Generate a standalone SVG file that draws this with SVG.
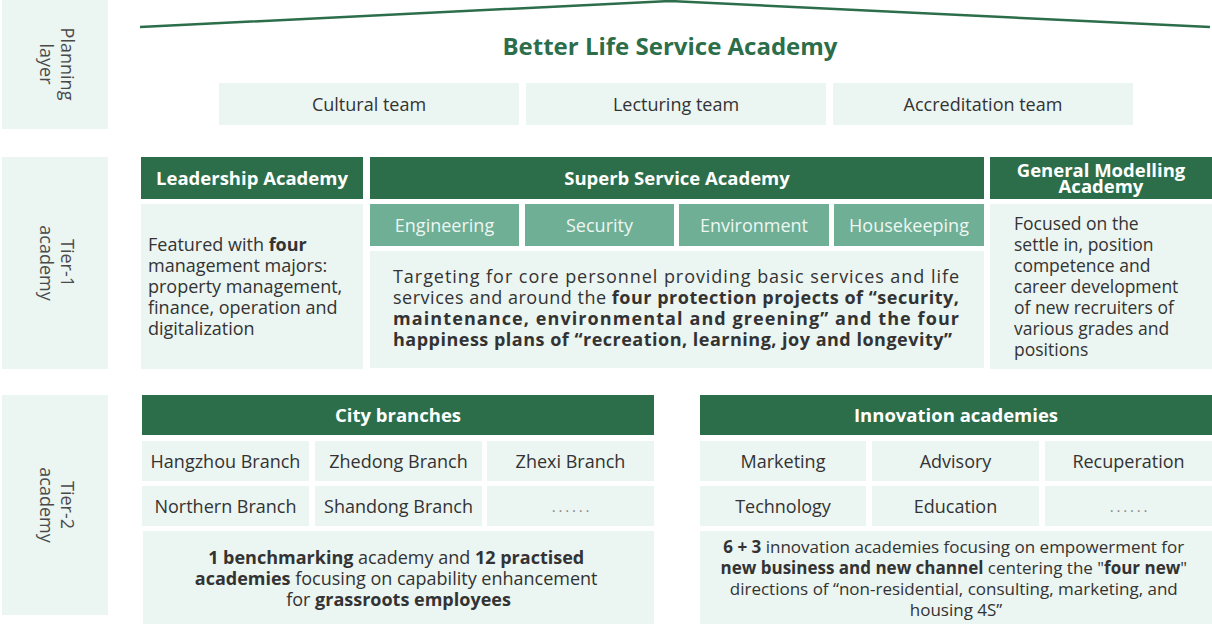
<svg xmlns="http://www.w3.org/2000/svg" width="1212" height="624" viewBox="0 0 1212 624">
  <style>
    text { font-family: "Open Sans", "Noto Sans", "Liberation Sans", sans-serif; }
    .pale { fill: #EBF5F2; }
    .dark { fill: #2C6E4A; }
    .mid { fill: #6EAF96; }
    .side { font-size: 18px; fill: #4a4a4a; text-anchor: middle; }
    .hdr { font-size: 18.5px; font-weight: 700; fill: #ffffff; text-anchor: middle; }
    .cell { font-size: 18px; fill: #333333; text-anchor: middle; }
    .sub { font-size: 18px; fill: #eef6f2; text-anchor: middle; }
    .body { font-size: 18px; fill: #333333; }
    .ctr { text-anchor: middle; }
    .b { font-weight: 700; }
    .dots { font-size: 15px; fill: #8a8a8a; text-anchor: middle; letter-spacing: 2.8px; }
    .title { font-size: 24px; font-weight: 700; fill: #2C6E4A; text-anchor: middle; }
  </style>

  <!-- roof over the planning layer -->
  <g id="roof">
    <polyline points="140,27 670,1 1210,27" fill="none" stroke="#2C6E4A" stroke-width="2.5" stroke-linejoin="round"/>
  </g>

  <!-- layer labels on the left -->
  <g id="label-planning">
    <rect class="pale" x="2" y="0" width="106" height="129"/>
    <text class="side" transform="rotate(90 55 64)"><tspan x="55" y="58">Planning</tspan><tspan x="55" y="79">layer</tspan></text>
  </g>
  <g id="label-tier1">
    <rect class="pale" x="2" y="157" width="106" height="212"/>
    <text class="side" transform="rotate(90 55 263)"><tspan x="55" y="257">Tier-1</tspan><tspan x="55" y="278">academy</tspan></text>
  </g>
  <g id="label-tier2">
    <rect class="pale" x="2" y="395" width="106" height="220"/>
    <text class="side" transform="rotate(90 55 505)"><tspan x="55" y="499">Tier-2</tspan><tspan x="55" y="520">academy</tspan></text>
  </g>

  <!-- planning layer -->
  <g id="better-life-academy">
    <text class="title" x="670" y="55">Better Life Service Academy</text>
  </g>
  <g id="cultural-team">
    <rect class="pale" x="219" y="83" width="300" height="42"/>
    <text class="cell" x="369" y="111">Cultural team</text>
  </g>
  <g id="lecturing-team">
    <rect class="pale" x="526" y="83" width="300" height="42"/>
    <text class="cell" x="676" y="111">Lecturing team</text>
  </g>
  <g id="accreditation-team">
    <rect class="pale" x="833" y="83" width="300" height="42"/>
    <text class="cell" x="983" y="111">Accreditation team</text>
  </g>

  <!-- tier-1 academies -->
  <g id="leadership-academy">
    <rect class="dark" x="141" y="157" width="222" height="42"/>
    <text class="hdr" x="252" y="185">Leadership Academy</text>
    <rect class="pale" x="141" y="204" width="222" height="165"/>
    <text class="body">
      <tspan x="148" y="251">Featured with <tspan class="b">four</tspan></tspan>
      <tspan x="148" y="272">management majors:</tspan>
      <tspan x="148" y="293">property management,</tspan>
      <tspan x="148" y="314">finance, operation and</tspan>
      <tspan x="148" y="335">digitalization</tspan>
    </text>
  </g>

  <g id="superb-service-academy">
    <rect class="dark" x="370" y="157" width="614" height="42"/>
    <text class="hdr" x="677" y="185">Superb Service Academy</text>
    <rect class="mid" x="370" y="204" width="149" height="42"/>
    <text class="sub" x="444.5" y="232">Engineering</text>
    <rect class="mid" x="525" y="204" width="149" height="42"/>
    <text class="sub" x="599.5" y="232">Security</text>
    <rect class="mid" x="679" y="204" width="150" height="42"/>
    <text class="sub" x="754" y="232">Environment</text>
    <rect class="mid" x="834" y="204" width="150" height="42"/>
    <text class="sub" x="909" y="232">Housekeeping</text>
    <rect class="pale" x="370" y="251" width="614" height="117"/>
    <text class="body" x="393" y="283" textLength="566" lengthAdjust="spacing">Targeting for core personnel providing basic services and life</text>
    <text class="body" x="393" y="304" textLength="566" lengthAdjust="spacing">services and around the <tspan class="b">four protection projects of “security,</tspan></text>
    <text class="body b" x="393" y="325" textLength="566" lengthAdjust="spacing">maintenance, environmental and greening” and the four</text>
    <text class="body b" x="393" y="346" textLength="559" lengthAdjust="spacing">happiness plans of “recreation, learning, joy and longevity”</text>
  </g>

  <g id="general-modelling-academy">
    <rect class="dark" x="990" y="157" width="222" height="42"/>
    <text class="hdr"><tspan x="1101" y="177">General Modelling</tspan><tspan x="1101" y="193">Academy</tspan></text>
    <rect class="pale" x="990" y="204" width="222" height="165"/>
    <text class="body" style="font-size:17.5px">
      <tspan x="1014" y="230">Focused on the</tspan>
      <tspan x="1014" y="251">settle in, position</tspan>
      <tspan x="1014" y="272">competence and</tspan>
      <tspan x="1014" y="293">career development</tspan>
      <tspan x="1014" y="314">of new recruiters of</tspan>
      <tspan x="1014" y="335">various grades and</tspan>
      <tspan x="1014" y="356">positions</tspan>
    </text>
  </g>

  <!-- tier-2 academies -->
  <g id="city-branches">
    <rect class="dark" x="142" y="395" width="512" height="40"/>
    <text class="hdr" x="398" y="422">City branches</text>
    <rect class="pale" x="142" y="441" width="167" height="40"/>
    <text class="cell" x="225.5" y="468">Hangzhou Branch</text>
    <rect class="pale" x="315" y="441" width="167" height="40"/>
    <text class="cell" x="398.5" y="468">Zhedong Branch</text>
    <rect class="pale" x="487" y="441" width="167" height="40"/>
    <text class="cell" x="570.5" y="468">Zhexi Branch</text>
    <rect class="pale" x="142" y="486" width="167" height="40"/>
    <text class="cell" x="225.5" y="513">Northern Branch</text>
    <rect class="pale" x="315" y="486" width="167" height="40"/>
    <text class="cell" x="398.5" y="513">Shandong Branch</text>
    <rect class="pale" x="487" y="486" width="167" height="40"/>
    <text class="dots" x="572" y="512">......</text>
    <rect class="pale" x="143" y="531" width="511" height="93"/>
    <text class="body ctr">
      <tspan x="398.5" y="564"><tspan class="b">1 benchmarking</tspan> academy and <tspan class="b">12 practised</tspan></tspan>
      <tspan x="398.5" y="585"><tspan class="b">academies</tspan> focusing on capability enhancement</tspan>
      <tspan x="398.5" y="606">for <tspan class="b">grassroots employees</tspan></tspan>
    </text>
  </g>

  <g id="innovation-academies">
    <rect class="dark" x="700" y="395" width="512" height="40"/>
    <text class="hdr" x="956" y="422">Innovation academies</text>
    <rect class="pale" x="700" y="441" width="166" height="40"/>
    <text class="cell" x="783" y="468">Marketing</text>
    <rect class="pale" x="872" y="441" width="167" height="40"/>
    <text class="cell" x="955.5" y="468">Advisory</text>
    <rect class="pale" x="1045" y="441" width="167" height="40"/>
    <text class="cell" x="1128.5" y="468">Recuperation</text>
    <rect class="pale" x="700" y="486" width="166" height="40"/>
    <text class="cell" x="783" y="513">Technology</text>
    <rect class="pale" x="872" y="486" width="167" height="40"/>
    <text class="cell" x="955.5" y="513">Education</text>
    <rect class="pale" x="1045" y="486" width="167" height="40"/>
    <text class="dots" x="1130" y="512">......</text>
    <rect class="pale" x="700" y="531" width="512" height="93"/>
    <text class="body ctr" style="font-size:17px">
      <tspan x="956" y="553"><tspan class="b">6 + 3</tspan> innovation academies focusing on empowerment for</tspan>
      <tspan x="956" y="574"><tspan class="b">new business and new channel</tspan> centering the "<tspan class="b">four new</tspan>"</tspan>
      <tspan x="956" y="595">directions of “non-residential, consulting, marketing, and</tspan>
      <tspan x="956" y="616">housing 4S”</tspan>
    </text>
  </g>
</svg>
